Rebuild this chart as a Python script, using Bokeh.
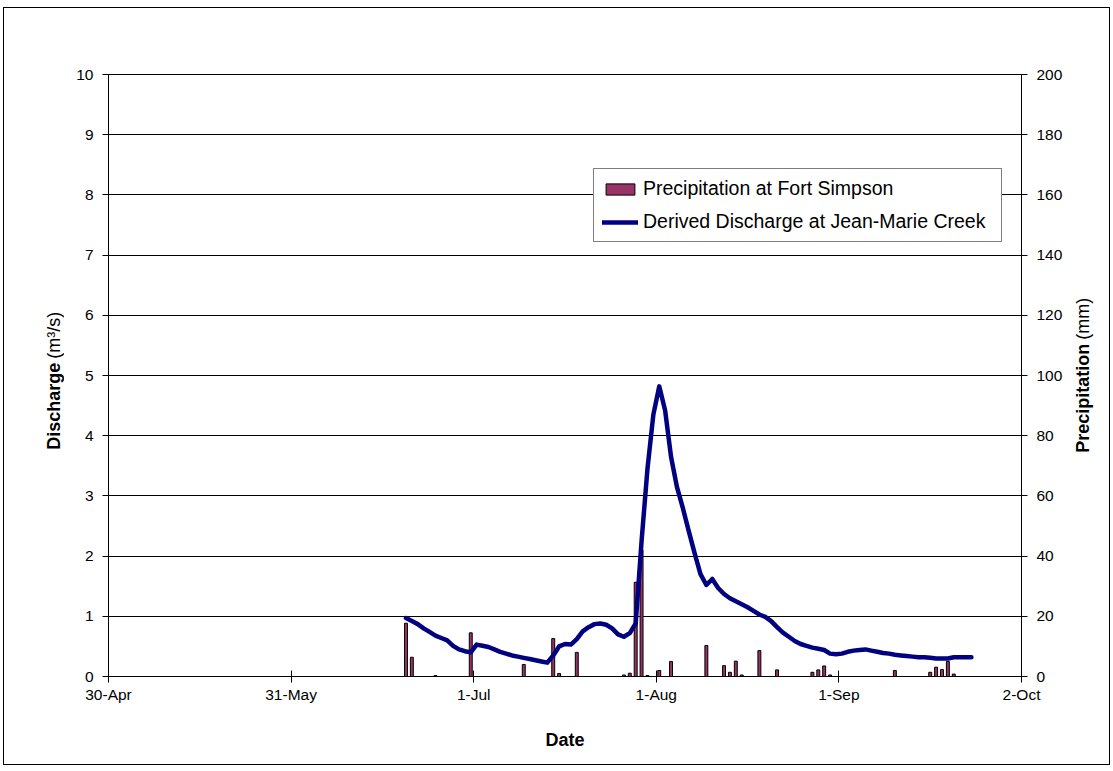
import pandas as pd
from math import pi
from bokeh.plotting import figure
from bokeh.layouts import row
from bokeh.models import Range1d, LinearAxis, FixedTicker, Legend, LegendItem
from bokeh.core.properties import value
from bokeh.embed import file_html
from bokeh.resources import INLINE

# ---- data -------------------------------------------------------------
axis_start = "2005-04-30"
tick_dates = ["2005-04-30", "2005-05-31", "2005-07-01", "2005-08-01",
              "2005-09-01", "2005-10-02"]
tick_labels = ["30-Apr", "31-May", "1-Jul", "1-Aug", "1-Sep", "2-Oct"]

# daily precipitation at Fort Simpson (mm)
precip_dates = ["2005-06-19", "2005-06-20", "2005-06-24", "2005-06-30",
                "2005-07-09", "2005-07-14", "2005-07-15", "2005-07-18",
                "2005-07-26", "2005-07-27", "2005-07-28", "2005-07-29",
                "2005-07-30", "2005-08-01", "2005-08-03", "2005-08-09",
                "2005-08-12", "2005-08-13", "2005-08-14", "2005-08-15",
                "2005-08-18", "2005-08-21", "2005-08-27", "2005-08-28",
                "2005-08-29", "2005-08-30", "2005-09-10", "2005-09-16",
                "2005-09-17", "2005-09-18", "2005-09-19", "2005-09-20"]
precip_mm = [17.7, 6.4, 0.3, 14.5,
             4.0, 12.6, 1.0, 8.0,
             0.5, 1.1, 31.3, 42.0,
             0.3, 2.0, 5.0, 10.3,
             3.6, 1.4, 5.1, 0.5,
             8.6, 2.2, 1.4, 2.2,
             3.5, 0.5, 2.0, 1.4,
             3.1, 2.3, 5.0, 0.8]

# derived daily discharge at Jean-Marie Creek (m3/s), from 19-Jun
discharge_start = "2005-06-19"
discharge = [0.97, 0.92, 0.87, 0.80, 0.74, 0.68, 0.64, 0.60, 0.51, 0.45,
             0.42, 0.40, 0.53, 0.51, 0.49, 0.45, 0.41, 0.38, 0.35, 0.33,
             0.31, 0.29, 0.27, 0.25, 0.23, 0.35, 0.50, 0.54, 0.53, 0.62,
             0.75, 0.82, 0.87, 0.88, 0.86, 0.80, 0.70, 0.66, 0.72, 0.88,
             2.25, 3.45, 4.35, 4.82, 4.42, 3.65, 3.15, 2.80, 2.42, 2.05,
             1.70, 1.52, 1.62, 1.47, 1.37, 1.30, 1.25, 1.20, 1.15, 1.09,
             1.03, 0.99, 0.92, 0.82, 0.73, 0.66, 0.59, 0.54, 0.51, 0.48,
             0.46, 0.44, 0.38, 0.37, 0.38, 0.41, 0.43, 0.44, 0.45, 0.43,
             0.41, 0.39, 0.38, 0.36, 0.35, 0.34, 0.33, 0.32, 0.32, 0.31,
             0.30, 0.30, 0.30, 0.32, 0.32, 0.32, 0.32]

# ---- helpers ------------------------------------------------------------
t0 = pd.Timestamp(axis_start)


def day_index(d):
    return (pd.Timestamp(d) - t0).days


# each day occupies one slot on the date axis; marks sit mid-slot
precip_x = [day_index(d) + 0.5 for d in precip_dates]
q_dates = pd.date_range(discharge_start, periods=len(discharge), freq="D")
q_x = [(d - t0).days + 0.5 for d in q_dates]
ticks = [day_index(d) for d in tick_dates]

FONT = "Liberation Sans"
TICK_PX = "15.5px"
TITLE_PX = "18px"
H = 756          # height of the bordered chart area
LEFT_W, RIGHT_W = 60, 37
MAIN_W = 1008

# ---- main figure --------------------------------------------------------
p = figure(width=MAIN_W, height=H, output_backend="svg", toolbar_location=None,
           x_range=Range1d(ticks[0], ticks[-1]), y_range=Range1d(0, 10),
           min_border_left=44, min_border_right=51,
           min_border_top=66, min_border_bottom=88,
           background_fill_color="white", border_fill_color="white")
p.extra_y_ranges = {"precip": Range1d(0, 200)}
p.outline_line_color = "black"
p.outline_line_width = 1

p.xgrid.visible = False
p.ygrid.ticker = FixedTicker(ticks=list(range(0, 11)))
p.ygrid.grid_line_color = "black"
p.ygrid.grid_line_width = 1

ly = p.yaxis[0]
ly.ticker = FixedTicker(ticks=list(range(0, 11)))
bx = p.xaxis[0]
bx.ticker = FixedTicker(ticks=ticks)
bx.major_label_overrides = {t: lab for t, lab in zip(ticks, tick_labels)}
bx.axis_label = "Date"
bx.axis_label_text_font = FONT
bx.axis_label_text_font_size = TITLE_PX
bx.axis_label_text_font_style = "bold"
bx.axis_label_text_color = "black"
bx.axis_label_standoff = 24

ry = LinearAxis(y_range_name="precip",
                ticker=FixedTicker(ticks=list(range(0, 201, 20))))
p.add_layout(ry, "right")

for ax in (ly, bx, ry):
    ax.axis_line_color = "black"
    ax.major_tick_line_color = "black"
    ax.major_tick_in = 6
    ax.major_tick_out = 6
    ax.minor_tick_line_color = None
    ax.major_label_text_font = FONT
    ax.major_label_text_font_size = TICK_PX
    ax.major_label_text_color = "black"
ly.major_label_standoff = 9
ry.major_label_standoff = 9
bx.major_label_standoff = 3

# ---- marks --------------------------------------------------------------
bars = p.vbar(x=precip_x, top=precip_mm, bottom=0, width=0.5,
              y_range_name="precip", fill_color="#993366",
              line_color="black", line_width=1)
q_line = p.line(x=q_x, y=discharge, line_color="#000080", line_width=4.5,
                line_join="round", line_cap="round")

legend = Legend(items=[
    LegendItem(label="Precipitation at Fort Simpson", renderers=[bars]),
    LegendItem(label="Derived Discharge at Jean-Marie Creek", renderers=[q_line]),
], location=(485, 434))
legend.label_text_font = FONT
legend.label_text_font_size = "19.5px"
legend.label_text_color = "black"
legend.glyph_width = 36
legend.glyph_height = 14
legend.label_height = 22
legend.label_width = 350
legend.label_standoff = 5
legend.spacing = 10
legend.padding = 8
legend.margin = 0
legend.border_line_color = "black"
legend.border_line_width = 1
legend.background_fill_alpha = 1
p.add_layout(legend, "center")


# ---- side strips carrying the rotated axis titles -----------------------
def strip(width):
    s = figure(width=width, height=H, output_backend="svg",
               toolbar_location=None, x_range=Range1d(0, width),
               y_range=Range1d(0, H), min_border=0,
               x_axis_location=None, y_axis_location=None,
               background_fill_color="white", border_fill_color="white")
    s.grid.visible = False
    s.outline_line_color = None
    return s


def split_title(s, x, y_split, name, unit):
    # bold name ends at the split point, plain unit starts just after it
    s.text(x=[x], y=[y_split], text=[name], angle=pi / 2,
           text_font=value(FONT), text_font_size=TITLE_PX,
           text_font_style="bold", text_color="black",
           text_align="right", text_baseline="middle")
    s.text(x=[x], y=[y_split + 5], text=[unit], angle=pi / 2,
           text_font=value(FONT), text_font_size=TITLE_PX,
           text_font_style="normal", text_color="black",
           text_align="left", text_baseline="middle")


left = strip(LEFT_W)
split_title(left, 49, 394, "Discharge", "(m\u00b3/s)")

right = strip(RIGHT_W)
split_title(right, 10, 418, "Precipitation", "(mm)")

chart = row(left, p, right, spacing=0, margin=(7, 0, 0, 3),
            styles={"border": "1px solid black"})

open("out.html", "w").write(file_html(chart, INLINE))
